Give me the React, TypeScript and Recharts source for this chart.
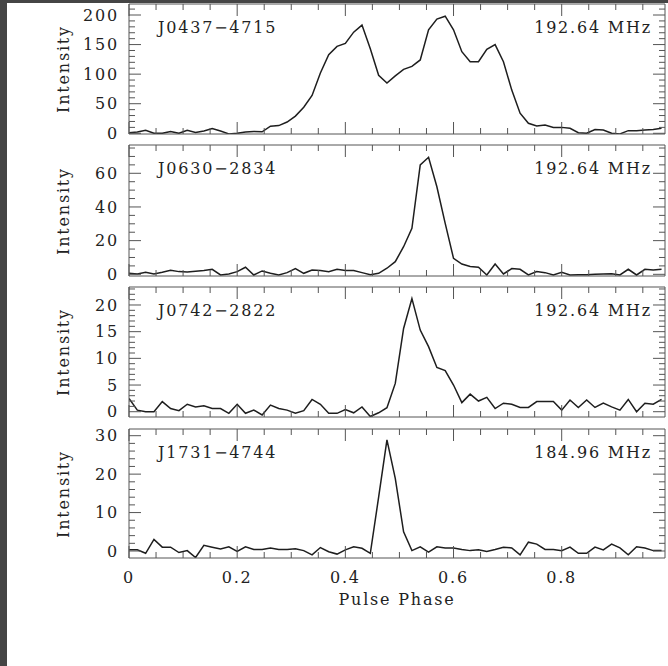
import React from "react";
import { LineChart, Line, XAxis, YAxis } from "recharts";

// pulse profiles, 65 phase bins each
const nBins = 65;
const phase = Array.from({ length: nBins }, (_, i) => i / nBins);

const j0437 = [
  1, 2, 5, 0, 0, 3, 0, 5, 1.5, 4, 8, 4, -1, 0, 2, 3, 2.5, 12, 13, 19, 29, 44,
  64, 102, 133, 147, 152, 171, 183, 143, 98, 85, 97, 108, 113, 124, 175, 193,
  198, 175, 138, 121, 121, 142, 150, 121, 73, 34, 17, 12.5, 14, 10, 10, 8.5,
  1, 0, 6.5, 5.5, 0, -1, 4.5, 4.5, 5.5, 6.5, 8.5,
];
const j0630 = [
  0.6, 0.2, 1.2, 0.2, 1.2, 2.4, 1.6, 1.4, 1.8, 2.2, 3, -0.4, 0.2, 1.6, 4.2,
  -0.4, 2, 0.6, -0.4, 1, 3.4, 0.6, 2.6, 2.2, 1.6, 3, 2.2, 2.2, 1, -0.2, 0.6,
  3.6, 7.5, 16.4, 27.3, 65, 69.5, 52, 30.3, 9.5, 6.1, 4.6, 4.2, -0.4, 6.1, 0.2,
  3.4, 3, -0.4, 1.6, 1, -0.4, 1.2, -0.4, -0.2, -0.2, 0, 0.2, 0.4, -0.4, 3,
  -0.4, 3, 2.6, 3,
];
const j0742 = [
  2.5, 0.3, 0, 0, 1.9, 0.6, 0.2, 1.4, 0.9, 1.1, 0.6, 0.6, -0.3, 1.4, -0.3, 0.3,
  -0.6, 1.25, 0.6, 0.3, -0.3, 0.2, 2.3, 1.4, -0.3, -0.3, 0.4, -0.2, 0.9, -0.9,
  -0.2, 0.75, 5.3, 15.6, 21.2, 15.3, 12.2, 8.3, 7.7, 5, 1.7, 3.3, 2, 2.7, 0.6,
  1.6, 1.4, 0.8, 0.8, 1.9, 1.9, 1.9, 0.3, 2.2, 0.8, 2.2, 0.8, 1.6, 0.9, 0.3,
  2.3, 0, 1.6, 1.4, 2.3,
];
const j1731 = [
  0.3, 0.3, -0.6, 3, 1, 1, -0.4, 0.1, -1.7, 1.5, 1, 0.5, 1.1, -0.1, 1.1, 0.4,
  0.4, 0.8, 0.4, 0.4, 0.6, 0.1, -1, 0.9, -0.2, -0.8, 0.3, 1.1, 0.7, -0.6, 14,
  28.9, 18.9, 5, 0.1, 1.1, -0.3, 1.1, 0.8, 0.8, 0.4, 0.1, 0.3, -0.1, 0.4, 1,
  0.8, -1, 2.3, 1.8, 0.4, 0.4, 0.1, 1, -0.6, -0.6, 1, 0.3, 1.8, 0.8, -1, 1.1,
  0.8, 0.1, 0.1,
];

const names = ["J0437\u22124715", "J0630\u22122834", "J0742\u22122822", "J1731\u22124744"];
const freqs = ["192.64 MHz", "192.64 MHz", "192.64 MHz", "184.96 MHz"];

const phaseTicks = [
  0, 0.05, 0.1, 0.15, 0.2, 0.25, 0.3, 0.35, 0.4, 0.45, 0.5, 0.55, 0.6, 0.65,
  0.7, 0.75, 0.8, 0.85, 0.9, 0.95,
];
const phaseLabels = [0, 0.2, 0.4, 0.6, 0.8];

const ticks1 = [0, 10, 20, 30, 40, 50, 60, 70, 80, 90, 100, 110, 120, 130, 140, 150, 160, 170, 180, 190, 200, 210];
const labels1 = [0, 50, 100, 150, 200];
const ticks2 = [0, 5, 10, 15, 20, 25, 30, 35, 40, 45, 50, 55, 60, 65, 70, 75];
const labels2 = [0, 20, 40, 60];
const ticks3 = [0, 1, 2, 3, 4, 5, 6, 7, 8, 9, 10, 11, 12, 13, 14, 15, 16, 17, 18, 19, 20, 21, 22, 23];
const labels3 = [0, 5, 10, 15, 20];
const ticks4 = [0, 2, 4, 6, 8, 10, 12, 14, 16, 18, 20, 22, 24, 26, 28, 30];
const labels4 = [0, 10, 20, 30];

const FRAME = "#555";
const INK = "#1e1e1e";
const txt: React.CSSProperties = {
  fontFamily: "'DejaVu Serif', serif",
  fontSize: 16,
  letterSpacing: 1.8,
  fill: "#222",
};
const htmlTxt: React.CSSProperties = {
  position: "absolute",
  fontFamily: "'DejaVu Serif', serif",
  fontSize: 16,
  letterSpacing: 1.8,
  color: "#222",
  whiteSpace: "nowrap",
  lineHeight: "20px",
  height: 20,
};

const XTick = (props: any) => {
  const { x, y, payload, top, showLabel } = props;
  const major = phaseLabels.includes(payload.value);
  const len = major ? 12 : 6;
  return (
    <g>
      <line x1={x} x2={x} y1={y} y2={top ? y + len : y - len} stroke={FRAME} />
      {showLabel && major && (
        <text x={x} y={y + 19} dy="0.35em" textAnchor="middle" style={txt}>
          {String(payload.value)}
        </text>
      )}
    </g>
  );
};

const YTick = (props: any) => {
  const { x, y, payload, right, majors } = props;
  const major = majors.includes(payload.value);
  const len = major ? 12 : 6;
  return (
    <g>
      <line x1={x} x2={right ? x - len : x + len} y1={y} y2={y} stroke={FRAME} />
      {!right && major && (
        <text x={x - 10} y={y} dy="0.35em" textAnchor="end" style={txt}>
          {String(payload.value)}
        </text>
      )}
    </g>
  );
};

const panels = [
  { values: j0437, top: 4, height: 130, domain: [-1.2, 218.6], ticks: ticks1, majors: labels1 },
  { values: j0630, top: 145, height: 131, domain: [-1, 76.8], ticks: ticks2, majors: labels2 },
  { values: j0742, top: 287, height: 130, domain: [-0.99, 23.37], ticks: ticks3, majors: labels3 },
  { values: j1731, top: 429, height: 129, domain: [-1.82, 31.74], ticks: ticks4, majors: labels4 },
];

function Panel({ idx }: { idx: number }) {
  const p = panels[idx];
  const showX = idx === panels.length - 1;
  const data = phase.map((ph, i) => ({ ph, v: p.values[i] }));
  const mt = 10;
  const mb = showX ? 40 : 10;
  const axisCommon = {
    type: "number" as const,
    allowDataOverflow: true,
    interval: 0 as const,
    tickSize: 0,
    tickMargin: 0,
    axisLine: { stroke: FRAME },
    tickLine: false,
  };
  return (
    <div style={{ position: "absolute", left: 0, top: p.top - mt }}>
      <LineChart
        width={668}
        height={p.height + mt + mb}
        data={data}
        margin={{ top: mt - 1, right: 2, bottom: mb - 1, left: 128 }}
      >
        <XAxis
          {...axisCommon}
          dataKey="ph"
          domain={[0, 0.991]}
          ticks={phaseTicks}
          height={1}
          tick={(t: any) => <XTick {...t} showLabel={showX} />}
        />
        <XAxis
          {...axisCommon}
          xAxisId="t"
          orientation="top"
          dataKey="ph"
          domain={[0, 0.991]}
          ticks={phaseTicks}
          height={1}
          tick={(t: any) => <XTick {...t} top />}
        />
        <YAxis
          {...axisCommon}
          domain={p.domain}
          ticks={p.ticks}
          width={1}
          tick={(t: any) => <YTick {...t} majors={p.majors} />}
        />
        <YAxis
          {...axisCommon}
          yAxisId="r"
          orientation="right"
          domain={p.domain}
          ticks={p.ticks}
          width={1}
          tick={(t: any) => <YTick {...t} majors={p.majors} right />}
        />
        <Line
          type="linear"
          dataKey="v"
          stroke={INK}
          strokeWidth={1.5}
          dot={false}
          isAnimationActive={false}
        />
      </LineChart>
    </div>
  );
}

export default function App() {
  return (
    <div
      style={{
        position: "absolute",
        left: 0,
        top: 0,
        width: 668,
        height: 666,
        background: "#fff",
        overflow: "hidden",
      }}
    >
      {panels.map((p, i) => (
        <Panel key={i} idx={i} />
      ))}
      {panels.map((p, i) => (
        <React.Fragment key={"t" + i}>
          <div style={{ ...htmlTxt, left: 158, top: p.top + 14 }}>{names[i]}</div>
          <div style={{ ...htmlTxt, right: 16, top: p.top + 14 }}>{freqs[i]}</div>
          <div
            style={{
              ...htmlTxt,
              left: 4,
              width: 120,
              textAlign: "center",
              top: p.top + p.height / 2 - 10,
              transform: "rotate(-90deg)",
            }}
          >
            Intensity
          </div>
        </React.Fragment>
      ))}
      <div style={{ ...htmlTxt, left: 297, width: 200, textAlign: "center", top: 590 }}>
        Pulse Phase
      </div>
      <div style={{ position: "absolute", left: 0, top: 0, width: 7, height: 666, background: "#454545" }} />
      <div style={{ position: "absolute", left: 0, top: 0, width: 668, height: 3, background: "#454545" }} />
    </div>
  );
}
